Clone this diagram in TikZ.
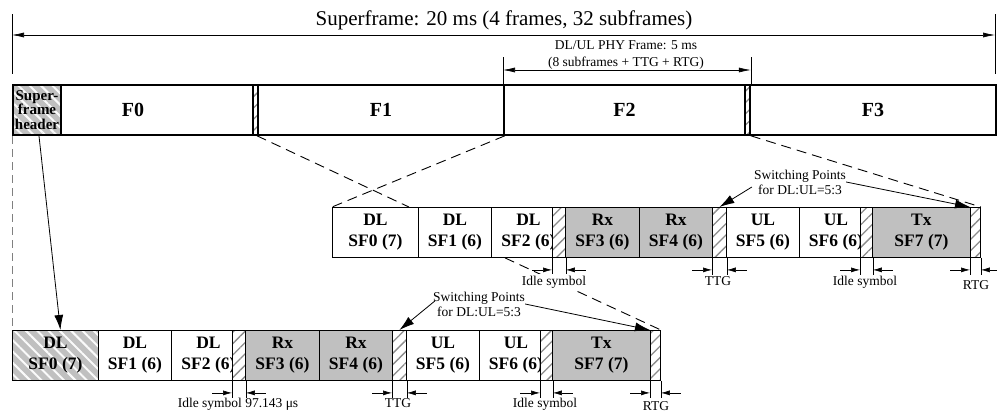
\documentclass[tikz,border=0pt]{standalone}
\usepackage{fontspec}
\setmainfont{Liberation Serif}
\usetikzlibrary{patterns.meta,arrows.meta,calc}
\definecolor{boxgray}{RGB}{192,192,192}
\definecolor{hatchgray}{RGB}{140,140,140}
\newcommand\gapmarks[1]{%
  \draw[line width=0.6pt] (#1.south west) -- ++(0,17);
  \draw[line width=0.6pt] (#1.south east) -- ++(0,17);
  \draw[dimarr] ($(#1.south west)+(-20,12)$) -- ($(#1.south west)+(0,12)$);
  \draw[dimarr] ($(#1.south east)+(20,12)$) -- ($(#1.south east)+(0,12)$);}
\begin{document}
\begin{tikzpicture}[x=1pt,y=-1pt,
  fbox/.style={draw,line width=1.8pt,inner sep=0pt,anchor=north west,minimum height=50pt,font=\fontsize{20}{24}\selectfont\bfseries},
  sbox/.style={draw,line width=0.9pt,inner sep=0pt,anchor=north west,minimum height=50pt,font=\fontsize{17.5}{21}\selectfont\bfseries,align=center},
  gbox/.style={sbox,fill=boxgray},
  hatchbox/.style={preaction={fill=white},pattern={Lines[angle=45,distance=8pt,line width=1.3pt]},pattern color=hatchgray},
  stripebox/.style={preaction={fill=boxgray},pattern={Lines[angle=-45,distance=8pt,line width=2pt]},pattern color=white!92!boxgray},
  lbl/.style={font=\fontsize{17.5}{21}\selectfont\bfseries,align=center,inner sep=0pt},
  small/.style={font=\fontsize{13.5}{15}\selectfont,inner sep=0pt},
  swtext/.style={font=\fontsize{13.5}{15}\selectfont,inner sep=0pt,align=center},
  dimarr/.style={line width=0.6pt,-{Latex[length=9pt,width=5pt]}},
  longarr/.style={line width=0.6pt,{Latex[length=12pt,width=5pt]}-{Latex[length=12pt,width=5pt]}},
  bigarr/.style={line width=0.8pt,-{Latex[length=15pt,width=9pt]}},
  dashline/.style={line width=0.9pt,dash pattern=on 10pt off 6pt},
]
\useasboundingbox (0,0) rectangle (997,418);

% ---- top dimensions
\node[font=\fontsize{21}{25}\selectfont,anchor=base,inner sep=0pt] (title) at (504,25) {Superframe: 20 ms (4 frames, 32 subframes)};
\coordinate (tl) at (12,35);
\coordinate (tr) at (995,35);
\draw[line width=0.6pt] (12,14) -- (12,74);
\draw[line width=0.6pt] (995,14) -- (995,74);
\draw[longarr] (tl) -- (tr);

% ---- top row
\node[fbox,minimum width=240pt] (F0) at (12,84) {F0};
\node[fbox,stripebox,minimum width=48pt,font=\fontsize{15}{14.5}\selectfont\bfseries,align=center] (hdr) at (12,84) {Super-\\frame\\header};
\node[fbox,hatchbox,minimum width=5pt] (g1) at (252,84) {};
\node[fbox,minimum width=246pt] (F1) at (257,84) {F1};
\node[fbox,minimum width=241pt] (F2) at (503,84) {F2};
\node[fbox,hatchbox,minimum width=5pt] (g2) at (744,84) {};
\node[fbox,minimum width=246pt] (F3) at (749,84) {F3};

\node[small,anchor=base] (phy1) at (626,49) {DL/UL PHY Frame: 5 ms};
\node[small,anchor=base] (phy2) at (626,66) {(8 subframes + TTG + RTG)};
\draw[line width=0.6pt] ($(F2.north west)+(0,-27)$) -- (F2.north west);
\draw[line width=0.6pt] ($(g2.north east)+(0,-27)$) -- (g2.north east);
\draw[longarr] ($(F2.north west)+(0,-14)$) -- ($(g2.north east)+(0,-14)$);

% ---- middle row
\node[sbox,minimum width=86pt] (mSF0) at (332,207) {DL\\SF0 (7)};
\node[sbox,minimum width=73pt] (mSF1) at (418,207) {DL\\SF1 (6)};
\node[sbox,minimum width=61pt] (mSF2) at (491,207) {};
\node[lbl] (mL2) at ($(mSF2.center)+(6.5,0)$) {DL\\SF2 (6)};
\node[sbox,hatchbox,minimum width=13pt] (mG1) at (552,207) {};
\node[gbox,minimum width=74pt] (mSF3) at (565,207) {Rx\\SF3 (6)};
\node[gbox,minimum width=73pt] (mSF4) at (639,207) {Rx\\SF4 (6)};
\node[sbox,hatchbox,minimum width=14pt] (mTTG) at (712,207) {};
\node[sbox,minimum width=73pt] (mSF5) at (726,207) {UL\\SF5 (6)};
\node[sbox,minimum width=61pt] (mSF6) at (799,207) {};
\node[lbl] (mL6) at ($(mSF6.center)+(6,0)$) {UL\\SF6 (6)};
\node[sbox,hatchbox,minimum width=12pt] (mG2) at (860,207) {};
\node[gbox,minimum width=98pt] (mSF7) at (872,207) {Tx\\SF7 (7)};
\node[sbox,hatchbox,minimum width=10pt] (mRTG) at (970,207) {};

% ---- bottom row
\node[sbox,stripebox,minimum width=86pt] (bSF0) at (12,330) {DL\\SF0 (7)};
\node[sbox,minimum width=73pt] (bSF1) at (98,330) {DL\\SF1 (6)};
\node[sbox,minimum width=61pt] (bSF2) at (171,330) {};
\node[lbl] (bL2) at ($(bSF2.center)+(6.5,0)$) {DL\\SF2 (6)};
\node[sbox,hatchbox,minimum width=13pt] (bG1) at (232,330) {};
\node[gbox,minimum width=74pt] (bSF3) at (245,330) {Rx\\SF3 (6)};
\node[gbox,minimum width=73pt] (bSF4) at (319,330) {Rx\\SF4 (6)};
\node[sbox,hatchbox,minimum width=14pt] (bTTG) at (392,330) {};
\node[sbox,minimum width=73pt] (bSF5) at (406,330) {UL\\SF5 (6)};
\node[sbox,minimum width=61pt] (bSF6) at (479,330) {};
\node[lbl] (bL6) at ($(bSF6.center)+(6,0)$) {UL\\SF6 (6)};
\node[sbox,hatchbox,minimum width=12pt] (bG2) at (540,330) {};
\node[gbox,minimum width=98pt] (bSF7) at (552,330) {Tx\\SF7 (7)};
\node[sbox,hatchbox,minimum width=10pt] (bRTG) at (650,330) {};

% ---- dashed mapping lines
\draw[dashline] (F1.south west) -- ($(mSF0.north east)+(-10,0)$);
\draw[dashline] (F1.south east) -- (mSF0.north west);
\draw[dashline] (g2.south east) -- (mRTG.north east);
\draw[dashline] ($(mSF2.south west)+(14,0)$) -- (bRTG.north east);
\draw[line width=0.9pt,gray,dash pattern=on 8pt off 5pt] (hdr.south west) -- (bSF0.north west);
\draw[bigarr] ($(hdr.south)+(2,0)$) -- ($(bSF0.north)+(5,0)$);

% ---- gap dimension marks
\gapmarks{mG1}
\gapmarks{mTTG}
\gapmarks{mG2}
\gapmarks{mRTG}
\gapmarks{bG1}
\gapmarks{bTTG}
\gapmarks{bG2}
\gapmarks{bRTG}

% ---- labels
\node[small,anchor=base,fill=white,inner sep=2pt] (mI1) at (554,285) {Idle symbol};
\node[small,anchor=base] (mT) at (718,285) {TTG};
\node[small,anchor=base] (mI2) at (865,285) {Idle symbol};
\node[small,anchor=base] (mR) at (976,289) {RTG};
\node[small,anchor=base] (bI1) at (238,407) {Idle symbol 97.143 μs};
\node[small,anchor=base] (bT) at (398,407) {TTG};
\node[small,anchor=base] (bI2) at (545,407) {Idle symbol};
\node[small,anchor=base] (bR) at (656,410) {RTG};

% ---- switching points
\node[swtext] (msw) at (800,182) {Switching Points\\for DL:UL=5:3};
\draw[bigarr] ($(msw.west)+(-2,5)$) -- (mTTG.north);
\draw[bigarr] (msw.east) -- (mRTG.north west);
\node[swtext] (bsw) at (479,304) {Switching Points\\for DL:UL=5:3};
\draw[bigarr] ($(bsw.west)+(2,-3)$) -- (bTTG.north);
\draw[bigarr] (bsw.east) -- (bRTG.north west);
\end{tikzpicture}
\end{document}
